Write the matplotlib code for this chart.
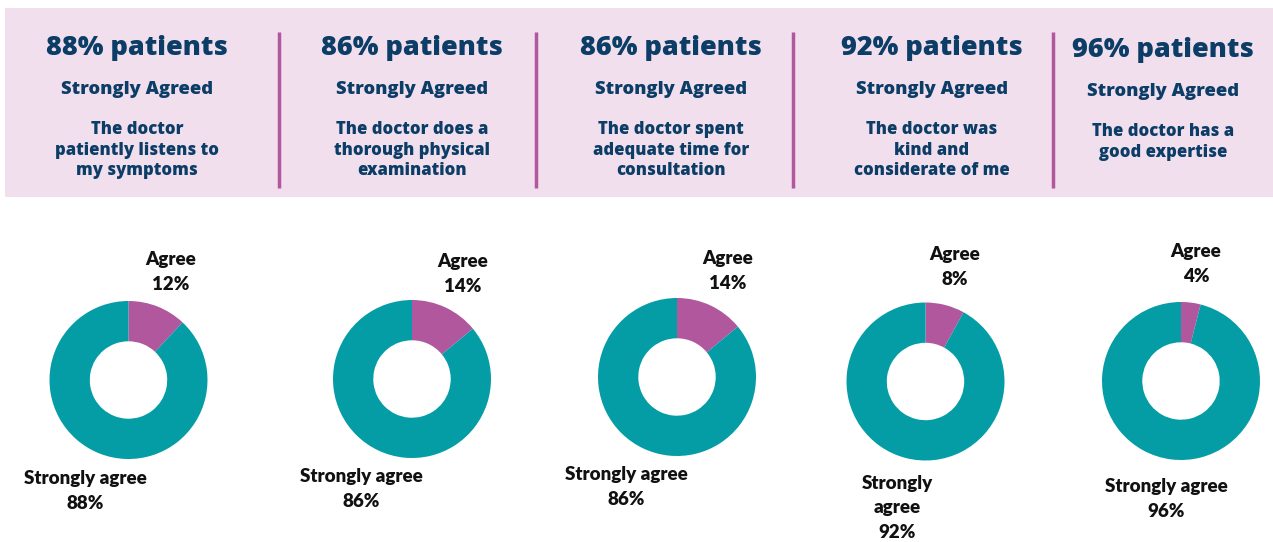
import matplotlib
matplotlib.use("Agg")
import matplotlib.pyplot as plt
from matplotlib.patches import Rectangle

# ---- data ----
headline_pct = ["88% patients", "86% patients", "86% patients", "92% patients", "96% patients"]
subtitle = "Strongly Agreed"
statements = [
    "The doctor\npatiently listens to\nmy symptoms",
    "The doctor does a\nthorough physical\nexamination",
    "The doctor spent\nadequate time for\nconsultation",
    "The doctor was\nkind and\nconsiderate of me",
    "The doctor has a\ngood expertise",
]
agree = [12, 14, 14, 8, 4]
strongly_agree = [88, 86, 86, 92, 96]
sa_labels = ["Strongly agree\n88%", "Strongly agree\n86%", "Strongly agree\n86%",
             "Strongly\nagree\n92%", "Strongly agree\n96%"]
agree_labels = ["Agree\n12%", "Agree\n14%", "Agree\n14%", "Agree\n8%", "Agree\n4%"]

# ---- layout (pixels, y from top) ----
W, H = 1273, 542
header_x = [137, 412, 671, 932, 1163]
divider_x = [279, 536, 793, 1053]
donut_c = [(128.5, 380), (412, 379), (677, 377), (925.5, 381.5), (1181, 381)]
agree_pos = [(171, 272), (463, 274), (728, 271), (955, 267), (1196, 264)]
sa_pos = [(85, 491), (361, 489), (626, 487), (897, 508), (1166, 499)]
R = 79

navy = "#0B3D66"
teal = "#059DA5"
purple = "#B0579E"
pink_bg = "#F1DFEE"

fig = plt.figure(figsize=(W / 100, H / 100), dpi=100)
ax = fig.add_axes([0, 0, 1, 1])

def Y(y):
    return H - y

ax.add_patch(Rectangle((5, Y(197)), 1268, 189, facecolor=pink_bg, edgecolor="none", zorder=0))
for dx in divider_x:
    ax.plot([dx, dx], [Y(32), Y(188)], color=purple, lw=2.5, solid_capstyle="butt", zorder=1)

hfont = ["Open Sans", "DejaVu Sans"]
for i, x in enumerate(header_x):
    dy = 2 if i == 4 else 0
    ax.text(x, Y(48 + dy), headline_pct[i], ha="center", va="center", fontsize=19.5,
            fontweight="heavy", color=navy, family=hfont)
    ax.text(x, Y(89 + dy), subtitle, ha="center", va="center", fontsize=13.2,
            fontweight="heavy", color=navy, family=hfont)
    ax.text(x, Y(121 + dy), statements[i], ha="center", va="top", fontsize=12.0,
            fontweight="heavy", color=navy, family=hfont, linespacing=1.27)

lfont = ["Lato", "DejaVu Sans"]
for i in range(5):
    cx, cy = donut_c[i]
    ax.pie([agree[i], strongly_agree[i]], colors=[purple, teal], startangle=90,
           counterclock=False, center=(cx, Y(cy)), radius=R, frame=True,
           wedgeprops=dict(width=R * 0.51, edgecolor="none"))
    ax.text(agree_pos[i][0], Y(agree_pos[i][1]), agree_labels[i], ha="center", va="center",
            fontsize=13.5, fontweight="heavy", color="#111111", family=lfont,
            linespacing=1.6)
    ax.text(sa_pos[i][0], Y(sa_pos[i][1]), sa_labels[i], ha="center", va="center",
            fontsize=13.5, fontweight="heavy", color="#111111", family=lfont,
            linespacing=1.55)

ax.set_xlim(0, W)
ax.set_ylim(0, H)
ax.set_aspect("auto")
ax.axis("off")
fig.savefig("out.png", dpi=100, facecolor="white")
